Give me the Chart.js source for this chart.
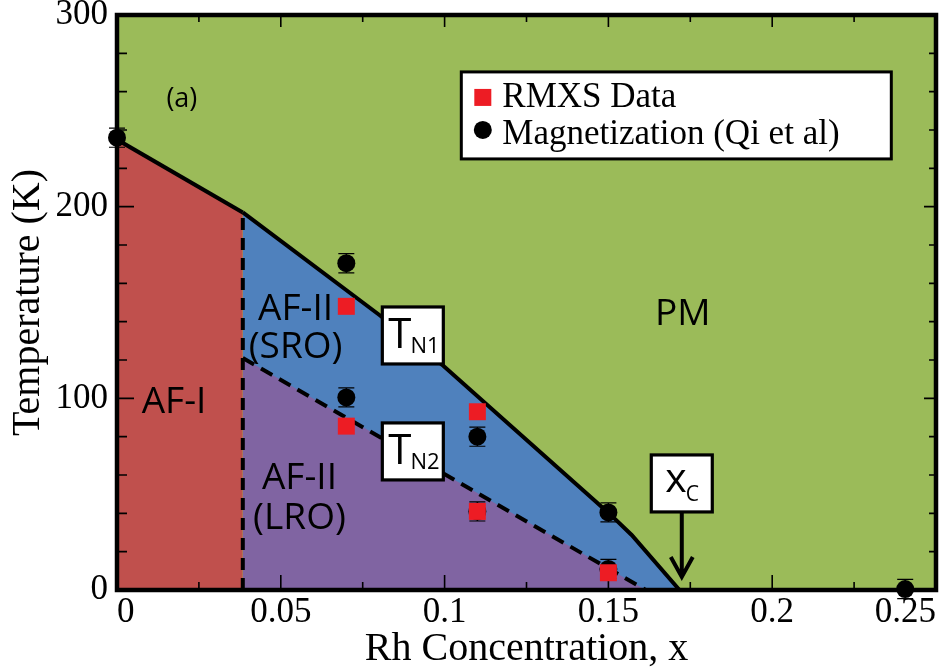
<!DOCTYPE html>
<html>
<head>
<meta charset="utf-8">
<title>Rh phase diagram</title>
<script src="https://cdn.jsdelivr.net/npm/chart.js@4.4.1/dist/chart.umd.min.js"></script>
<style>
  body { margin: 0; background: #fff; }
  canvas { display: block; }
</style>
</head>
<body>
<canvas id="phaseChart" width="948" height="669"></canvas>
<script>
// Phase boundaries: Rh concentration x against temperature (K)
const tn1X = [0, 0.0384, 0.0801, 0.0996, 0.1504, 0.1571, 0.1717];
const tn1T = [235, 197, 143.5, 117, 39.7, 28.7, 0];
const tn2X = [0.0384, 0.1614];
const tn2T = [121, 0];
const afBoundaryX = 0.0384;
const xcValue = 0.1724;

// RMXS data
const rmxsX = [0.07, 0.07, 0.11, 0.11, 0.15];
const rmxsT = [148, 85.5, 93, 41, 9];

// Magnetization (Qi et al), with error bars
const magX = [0, 0.07, 0.07, 0.11, 0.11, 0.15, 0.15, 0.2406];
const magT = [236, 170.5, 100.5, 80, 41, 40.5, 11, 0.5];
const magErr = [5, 5, 5, 5, 5, 5, 5, 5];

// axis ticks
const xMajor = [0, 0.05, 0.1, 0.15, 0.2, 0.25];
const xTickLabels = ['0', '0.05', '0.1', '0.15', '0.2', '0.25'];
const yMajor = [0, 100, 200, 300];
const yTickLabels = ['0', '100', '200', '300'];

const PM_GREEN = '#9bbb59';
const AF1_RED = '#c0504d';
const SRO_BLUE = '#4f81bd';
const LRO_PURPLE = '#8064a2';
const RMXS_RED = '#ed1c24';

const serif = "'Liberation Serif', 'Times New Roman', serif";
const sans = "'Open Sans', 'Noto Sans', sans-serif";

const pts = (xs, ys) => xs.map((x, i) => ({ x: x, y: ys[i] }));
const near = (v, list) => list.findIndex(m => Math.abs(m - v) < 1e-6);

// green PM background inside the plot frame
const phaseBackground = {
  id: 'phaseBackground',
  beforeDatasetsDraw(chart) {
    const { ctx, chartArea: a } = chart;
    ctx.save();
    ctx.fillStyle = PM_GREEN;
    ctx.fillRect(a.left, a.top, a.width, a.height);
    ctx.restore();
  }
};

// frame, inward ticks and error bars go over the fills but under the points
const frameTicks = {
  id: 'frameTicks',
  beforeDatasetDraw(chart, args) {
    if (args.index !== 1) return;
    const { ctx, chartArea: a, scales: { x, y } } = chart;
    ctx.save();
    ctx.strokeStyle = '#000';
    ctx.lineWidth = 1.6;
    ctx.beginPath();
    x.ticks.forEach(t => {
      const px = x.getPixelForValue(t.value);
      const major = near(t.value, xMajor) >= 0;
      ctx.moveTo(px, a.bottom); ctx.lineTo(px, a.bottom - (major ? 15 : 8));
      ctx.moveTo(px, a.top); ctx.lineTo(px, a.top + (major ? 12 : 7));
    });
    y.ticks.forEach(t => {
      const py = y.getPixelForValue(t.value);
      const major = near(t.value, yMajor) >= 0;
      ctx.moveTo(a.left, py); ctx.lineTo(a.left + (major ? 17 : 10), py);
      ctx.moveTo(a.right, py); ctx.lineTo(a.right - (major ? 12 : 7), py);
    });
    ctx.stroke();
    ctx.lineWidth = 4.5;
    ctx.strokeRect(a.left, a.top, a.width, a.height);

    // error bars on the magnetization points
    ctx.lineWidth = 1.2;
    ctx.beginPath();
    magX.forEach((mx, i) => {
      const px = x.getPixelForValue(mx);
      const top = y.getPixelForValue(magT[i] + magErr[i]);
      const bot = y.getPixelForValue(magT[i] - magErr[i]);
      ctx.moveTo(px, top); ctx.lineTo(px, bot);
      ctx.moveTo(px - 8, top); ctx.lineTo(px + 8, top);
      ctx.moveTo(px - 8, bot); ctx.lineTo(px + 8, bot);
    });
    ctx.stroke();
    ctx.restore();
  }
};

function centerText(ctx, text, px, py, size, family, capRatio) {
  ctx.font = size + 'px ' + family;
  ctx.textAlign = 'center';
  ctx.textBaseline = 'alphabetic';
  ctx.fillText(text, px, py + size * capRatio / 2);
}

function subBox(ctx, cx, cy, main, sub, mainSize, subSize, lower) {
  const w = 61, h = 57;
  const left = cx - w / 2, top = cy - h / 2;
  ctx.fillStyle = '#fff';
  ctx.fillRect(left, top, w, h);
  ctx.strokeStyle = '#000';
  ctx.lineWidth = 3.2;
  ctx.strokeRect(left, top, w, h);
  ctx.fillStyle = '#000';
  ctx.textAlign = 'left';
  ctx.textBaseline = 'alphabetic';
  ctx.font = mainSize + 'px ' + sans;
  const mainX = left + (lower ? 14 : 6);
  ctx.fillText(main, mainX, top + (lower ? 37 : 41));
  const mw = ctx.measureText(main).width;
  ctx.font = subSize + 'px ' + sans;
  ctx.fillText(sub, mainX + mw - 1, top + 46);
}

// region names, boundary labels, the x_c arrow and the legend
const annotations = {
  id: 'annotations',
  afterDatasetsDraw(chart) {
    const { ctx, scales: { x, y } } = chart;
    const X = v => x.getPixelForValue(v);
    const Y = v => y.getPixelForValue(v);
    ctx.save();
    ctx.fillStyle = '#000';

    centerText(ctx, '(a)', X(0.0198), Y(257), 27, sans, 0.714);
    centerText(ctx, 'AF-I', X(0.0174), Y(99), 37, sans, 0.714);
    centerText(ctx, 'AF-II', X(0.0545), Y(147.6), 37, sans, 0.714);
    centerText(ctx, '(SRO)', X(0.0545), Y(127.8), 37, sans, 0.714);
    centerText(ctx, 'AF-II', X(0.0557), Y(59.5), 37, sans, 0.714);
    centerText(ctx, '(LRO)', X(0.0557), Y(38.6), 37, sans, 0.714);
    centerText(ctx, 'PM', X(0.1727), Y(145), 37, sans, 0.714);

    subBox(ctx, X(0.0903), Y(132.8), 'T', 'N1', 42, 22, false);
    subBox(ctx, X(0.0903), Y(72.3), 'T', 'N2', 42, 22, false);

    // x_c box with arrow down to the critical concentration
    const ax = X(xcValue);
    subBox(ctx, ax, Y(55.6), 'x', 'C', 41, 21, true);
    const shaftTop = Y(55.6) + 28.5;
    const tip = Y(6.8);
    ctx.strokeStyle = '#000';
    ctx.lineWidth = 4;
    ctx.beginPath();
    ctx.moveTo(ax, shaftTop); ctx.lineTo(ax, tip);
    ctx.moveTo(ax - 11, tip - 20); ctx.lineTo(ax, tip); ctx.lineTo(ax + 11, tip - 20);
    ctx.stroke();

    // legend
    const lx = X(0.1051), ly = Y(270.3);
    ctx.fillStyle = '#fff';
    ctx.fillRect(lx, ly, 430, 87);
    ctx.lineWidth = 3;
    ctx.strokeRect(lx, ly, 430, 87);
    ctx.fillStyle = RMXS_RED;
    ctx.fillRect(lx + 13, ly + 17, 17, 17);
    ctx.fillStyle = '#000';
    ctx.beginPath();
    ctx.arc(lx + 21.5, ly + 58, 9, 0, Math.PI * 2);
    ctx.fill();
    ctx.font = '35px ' + serif;
    ctx.textAlign = 'left';
    ctx.textBaseline = 'alphabetic';
    ctx.fillText('RMXS Data', lx + 41, ly + 35);
    ctx.fillText('Magnetization (Qi et al)', lx + 41, ly + 72);
    ctx.restore();
  }
};

const lineSet = (data, extra) => Object.assign({
  data: data, showLine: true, pointRadius: 0, borderColor: '#000',
  borderWidth: 4, fill: false, tension: 0
}, extra);

new Chart(document.getElementById('phaseChart'), {
  type: 'line',
  data: {
    datasets: [
      { label: 'RMXS Data', data: pts(rmxsX, rmxsT), showLine: false, pointStyle: 'rect',
        pointRadius: 12, pointBackgroundColor: RMXS_RED, pointBorderWidth: 0, clip: false },
      { label: 'Magnetization (Qi et al)', data: pts(magX, magT), showLine: false, pointStyle: 'circle',
        pointRadius: 9, pointBackgroundColor: '#000', pointBorderWidth: 0, clip: false },
      lineSet([{ x: afBoundaryX, y: 0 }, { x: afBoundaryX, y: tn1T[1] }],
        { borderWidth: 4, borderDash: [12, 8] }),
      lineSet(pts(tn2X, tn2T), { borderWidth: 4, borderDash: [13, 8], fill: 'origin', backgroundColor: LRO_PURPLE }),
      lineSet(pts(tn1X.slice(1), tn1T.slice(1)), { fill: 'origin', backgroundColor: SRO_BLUE }),
      lineSet(pts(tn1X.slice(0, 2), tn1T.slice(0, 2)), { fill: 'origin', backgroundColor: AF1_RED })
    ]
  },
  options: {
    responsive: false,
    animation: false,
    layout: { padding: { top: 15, right: 10, left: 0, bottom: 0 } },
    plugins: { legend: { display: false }, tooltip: { enabled: false } },
    scales: {
      x: {
        type: 'linear', min: 0, max: 0.25,
        afterFit(s) { s.height = 79; s.paddingLeft = 0; s.paddingRight = 0; },
        grid: { display: false, drawTicks: false },
        border: { display: false },
        ticks: {
          stepSize: 0.025, align: 'inner', padding: 2, maxRotation: 0, autoSkip: false,
          color: '#000', font: { family: serif, size: 35 },
          callback(v) { const i = near(v, xMajor); return i < 0 ? '' : xTickLabels[i]; }
        },
        title: {
          display: true, text: 'Rh Concentration, x', color: '#000',
          font: { family: serif, size: 40, lineHeight: 1 }, padding: { top: 0, bottom: 0 }
        }
      },
      y: {
        min: 0, max: 300,
        afterFit(s) { s.width = 117; s.paddingTop = 0; s.paddingBottom = 0; },
        grid: { display: false, drawTicks: false },
        border: { display: false },
        ticks: {
          stepSize: 20, padding: 9, autoSkip: false,
          color: '#000', font: { family: serif, size: 35 },
          callback(v) { const i = near(v, yMajor); return i < 0 ? '' : yTickLabels[i]; }
        },
        title: {
          display: true, text: 'Temperature (K)', color: '#000',
          font: { family: serif, size: 40, lineHeight: 1 }, padding: { top: 8, bottom: 0 }
        }
      }
    }
  },
  plugins: [phaseBackground, frameTicks, annotations]
});
</script>
</body>
</html>
